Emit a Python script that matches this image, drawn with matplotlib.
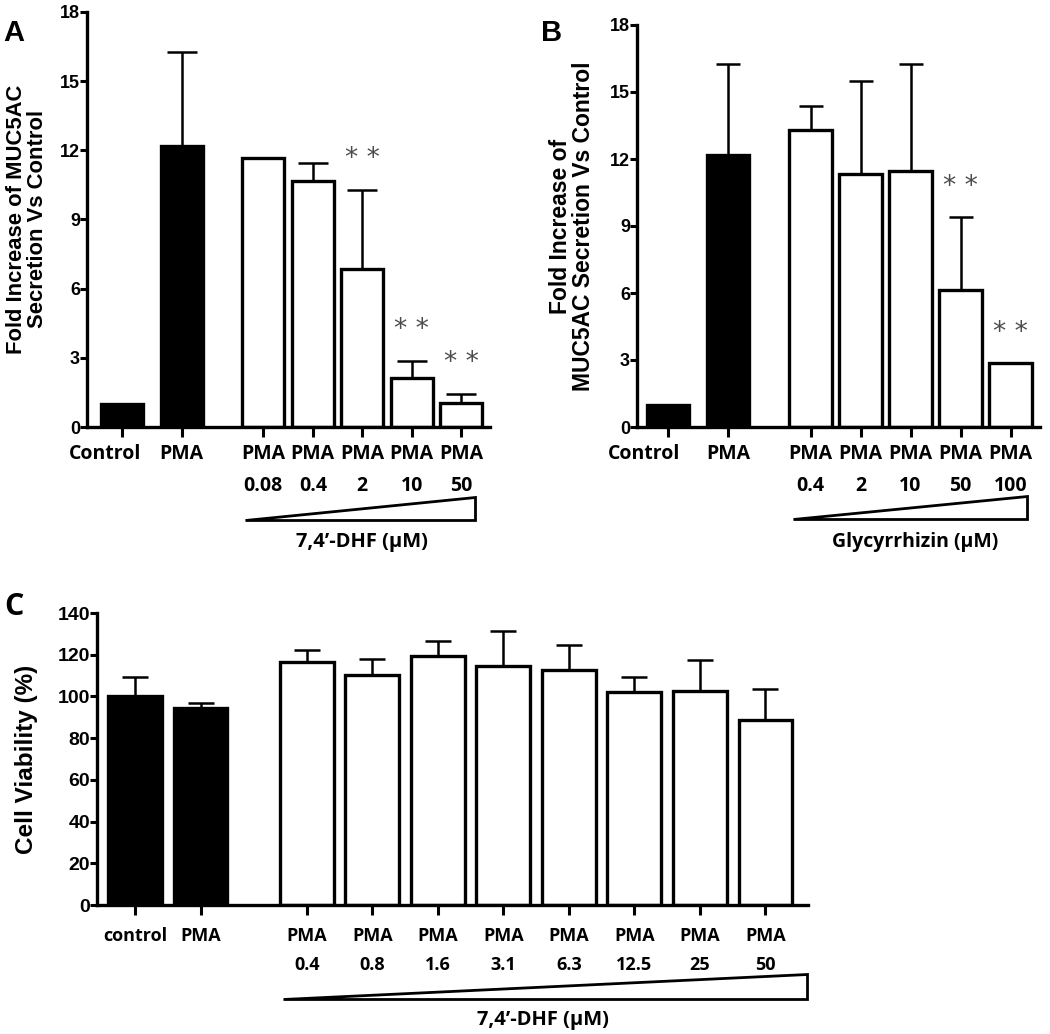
import numpy as np
import matplotlib.pyplot as plt
import matplotlib.transforms as mtransforms
from matplotlib.patches import Polygon

plt.rcParams['font.family'] = ['Open Sans', 'DejaVu Sans']

# Panel A: MUC5AC secretion with 7,4'-DHF
a_labels = ['Control', 'PMA', 'PMA\n0.08', 'PMA\n0.4', 'PMA\n2', 'PMA\n10', 'PMA\n50']
a_values = [1.0, 12.2, 11.65, 10.67, 6.85, 2.13, 1.04]
a_err = [0.0, 4.06, 0.0, 0.78, 3.43, 0.73, 0.39]
a_sig = [False, False, False, False, True, True, True]

# Panel B: MUC5AC secretion with glycyrrhizin
b_labels = ['Control', 'PMA', 'PMA\n0.4', 'PMA\n2', 'PMA\n10', 'PMA\n50', 'PMA\n100']
b_values = [1.0, 12.18, 13.3, 11.33, 11.46, 6.13, 2.87]
b_err = [0.0, 4.08, 1.07, 4.17, 4.8, 3.27, 0.0]
b_sig = [False, False, False, False, False, True, True]

# Panel C: cell viability
c_labels = ['control', 'PMA', 'PMA\n0.4', 'PMA\n0.8', 'PMA\n1.6', 'PMA\n3.1',
            'PMA\n6.3', 'PMA\n12.5', 'PMA\n25', 'PMA\n50']
c_values = [100, 94.5, 116.5, 110.5, 119.5, 114.5, 112.8, 102, 102.5, 88.5]
c_err = [9.5, 2.5, 6.0, 7.5, 7.0, 17.0, 12.0, 7.5, 15.0, 15.0]

W, H = 1050, 1034
fig = plt.figure(figsize=(W / 100, H / 100), dpi=100)


def px_axes(l, r, t, b):
    return fig.add_axes([l / W, 1 - b / H, (r - l) / W, (b - t) / H])


def draw_panel(ax, pos, values, err, labels, n_black, width, cap, ylim, yticks, xlim,
               lblsize, ticksize, xpad=5):
    pos = np.array(pos)
    values = np.array(values)
    err = np.array(err)
    fills = ['black'] * n_black + ['white'] * (len(values) - n_black)
    ax.bar(pos, values, width, color=fills, edgecolor='black', linewidth=2.4, zorder=2)
    m = err > 0
    ax.errorbar(pos[m], values[m], yerr=[np.zeros(m.sum()), err[m]], fmt='none',
                ecolor='black', elinewidth=1.8, capsize=cap, capthick=1.8, zorder=3)
    ax.set_xlim(*xlim)
    ax.set_ylim(*ylim)
    ax.set_yticks(yticks)
    ax.set_yticklabels([str(t) for t in yticks], family='Liberation Sans',
                       fontweight='bold', fontsize=ticksize)
    ax.set_xticks(pos)
    ax.set_xticklabels(labels, fontweight='bold', fontsize=lblsize, linespacing=1.8,
                       va='top')
    for s in ['top', 'right']:
        ax.spines[s].set_visible(False)
    for s in ['left', 'bottom']:
        ax.spines[s].set_linewidth(2.4)
    ax.tick_params(axis='y', direction='out', length=5, width=2.2, pad=0)
    ax.tick_params(axis='x', direction='out', length=7, width=2.2, pad=xpad)
    ax.patch.set_alpha(0)


def shift_first_label(ax, dx_px):
    lab = ax.get_xticklabels()[0]
    lab.set_transform(lab.get_transform()
                      + mtransforms.ScaledTranslation(dx_px / 100, 0, fig.dpi_scale_trans))


def stars(ax, pos, values, err, sig):
    for x, v, e, s in zip(pos, values, err, sig):
        if s:
            ax.text(x, v + e + 1.35, '* *', ha='center', va='center', fontsize=19,
                    color='#4d4d4d', family='DejaVu Sans')


def wedge(l, r, top, bottom, text, tx, ty, size):
    tri = Polygon([(l / W, 1 - bottom / H), (r / W, 1 - bottom / H), (r / W, 1 - top / H)],
                  closed=True, facecolor='white', edgecolor='black', linewidth=2.0,
                  transform=fig.transFigure)
    fig.add_artist(tri)
    fig.text(tx / W, 1 - ty / H, text, ha='center', va='center',
             fontsize=size, fontweight='bold')


# Panel A
pos_a = [0, 1.2, 2.85, 3.85, 4.85, 5.85, 6.85]
ax_a = px_axes(87, 490, 12, 427)
draw_panel(ax_a, pos_a, a_values, a_err, a_labels, 2, 0.85, 11, (0, 18),
           [0, 3, 6, 9, 12, 15, 18], (-0.71, 7.43), 14, 13)
shift_first_label(ax_a, -17)
stars(ax_a, pos_a, a_values, a_err, a_sig)
ax_a.set_ylabel('Fold Increase of MUC5AC\nSecretion Vs Control', family='Liberation Sans',
                fontweight='bold', fontsize=15.8, linespacing=1.0)
ax_a.yaxis.set_label_coords(-0.098, 0.5)
fig.text(3 / W, 1 - 33 / H, 'A', family='Liberation Sans', fontweight='bold',
         fontsize=21, va='center')
wedge(245, 475, 497, 520, '7,4\u2019-DHF (\u00b5M)', 362, 542, 14.5)

# Panel B
pos_b = [0, 1.2, 2.85, 3.85, 4.85, 5.85, 6.85]
ax_b = px_axes(637, 1040, 25, 427)
draw_panel(ax_b, pos_b, b_values, b_err, b_labels, 2, 0.85, 8.5, (0, 18),
           [0, 3, 6, 9, 12, 15, 18], (-0.62, 7.44), 14, 13)
shift_first_label(ax_b, -24)
stars(ax_b, pos_b, b_values, b_err, b_sig)
ax_b.set_ylabel('Fold Increase of\nMUC5AC Secretion Vs Control', family='Liberation Sans',
                fontweight='bold', fontsize=16.5, linespacing=1.0)
ax_b.yaxis.set_label_coords(-0.104, 0.5)
fig.text(541 / W, 1 - 33 / H, 'B', family='Liberation Sans', fontweight='bold',
         fontsize=21, va='center')
wedge(793, 1027, 496, 519, 'Glycyrrhizin (\u00b5M)', 915, 542, 14)

# Panel C
pos_c = [0, 1, 2.62, 3.62, 4.62, 5.62, 6.62, 7.62, 8.62, 9.62]
ax_c = px_axes(97, 808, 613, 905)
draw_panel(ax_c, pos_c, c_values, c_err, c_labels, 2, 0.82, 9.5, (0, 140),
           [0, 20, 40, 60, 80, 100, 120, 140], (-0.58, 10.27), 13, 14, xpad=9)
ax_c.set_ylabel('Cell Viability (%)', family='Liberation Sans', fontweight='bold',
                fontsize=17.5)
ax_c.yaxis.set_label_coords(-0.083, 0.5)
fig.text(4 / W, 1 - 607 / H, 'C', fontsize=22, fontweight='bold', va='center')
wedge(283, 807, 974, 999, '7,4\u2019-DHF (\u00b5M)', 543, 1020, 14.5)

fig.savefig('out.png', dpi=100)
